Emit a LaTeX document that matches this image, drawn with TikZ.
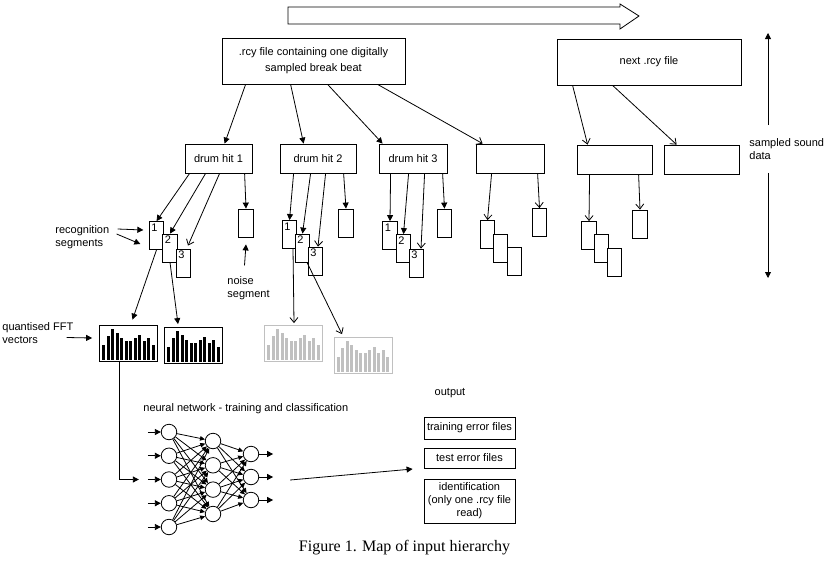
\documentclass[tikz,border=0pt]{standalone}
\usepackage{fontspec}
\setmainfont{Liberation Sans}
\newfontfamily\capfont{Liberation Serif}
\usetikzlibrary{arrows.meta}
\definecolor{bargrey}{RGB}{192,192,192}
\begin{document}
\begin{tikzpicture}[x=1pt, y=-1pt, line width=0.8pt,
    font=\fontsize{11}{13}\selectfont,
    box/.style={draw, fill=white, inner sep=0pt, align=center},
    seg/.style={draw, fill=white, minimum width=14.5pt, minimum height=28pt, inner sep=0pt},
    segl/.style={seg, label={[anchor=north west, inner sep=2pt]north west:#1}},
    hist/.style={draw, minimum width=58pt, minimum height=36pt, inner sep=0pt},
    neuron/.style={draw, circle, minimum size=15.5pt, inner sep=0pt},
    txt/.style={anchor=west, align=left, inner sep=0pt},
    tipf/.style={-{Triangle[length=6pt,width=6pt]}},
    tipo/.style={-{Straight Barb[length=5pt,width=8pt]}},
    tipn/.style={-{Triangle[length=5pt,width=4.5pt]}}]
\useasboundingbox (0,0) rectangle (827,565);

\draw[fill=white] (288,7) -- (620,7) -- (620,4) -- (639,16) -- (620,29) -- (620,24) -- (288,24) -- cycle;

\node[box, minimum width=183pt, minimum height=46pt, font=\fontsize{11}{16}\selectfont] (rcy) at (313.5,61) {.rcy file containing one digitally\\sampled break beat};
\node[box, minimum width=184pt, minimum height=46pt] (next) at (649,62) {next .rcy file};

\node[txt, inner ysep=13pt] (ssd) at (749,149) {sampled sound\\data};
\coordinate (sdup) at (768,33);
\coordinate (sddown) at (768,278);
\draw[tipf] (ssd.north -| sdup) -- (sdup);
\draw[tipf] (ssd.south -| sddown) -- (sddown);

\node[box, minimum width=67pt, minimum height=29pt] (dh1) at (218.5,158.5) {drum hit 1};
\node[box, minimum width=76pt, minimum height=29pt] (dh2) at (318,158.5) {drum hit 2};
\node[box, minimum width=68pt, minimum height=29pt] (dh3) at (413,158.5) {drum hit 3};
\node[box, minimum width=68pt, minimum height=29pt] (hb4) at (510,158.5) {};
\node[box, minimum width=75pt, minimum height=29pt] (hb5) at (614.5,159.5) {};
\node[box, minimum width=75pt, minimum height=29pt] (hb6) at (701.5,159.5) {};

\draw[tipf] ([xshift=24pt]rcy.south west) -- ([xshift=40pt]dh1.north west);
\draw[tipf] ([xshift=69pt]rcy.south west) -- ([xshift=24pt]dh2.north west);
\draw[tipf] ([xshift=106pt]rcy.south west) -- ([xshift=4pt]dh3.north west);
\draw[tipo] ([xshift=156pt]rcy.south west) -- ([xshift=7pt]hb4.north west);
\draw[tipo] ([xshift=16pt]next.south west) -- ([xshift=11pt]hb5.north west);
\draw[tipo] ([xshift=56pt]next.south west) -- ([xshift=13pt]hb6.north west);

\node[segl=1] (a1) at (156.5,235.5) {};
\node[segl=2] (a2) at (170,248) {};
\node[segl=3] (a3) at (183.5,263) {};
\node[seg] (an) at (246,223) {};
\node[segl=1] (b1) at (289.5,234.5) {};
\node[segl=2] (b2) at (302.5,248) {};
\node[segl=3] (b3) at (315.5,261) {};
\node[seg] (bn) at (346,223) {};
\node[segl=1] (c1) at (390,235.5) {};
\node[segl=2] (c2) at (403.5,248.5) {};
\node[segl=3] (c3) at (416.5,263) {};
\node[seg] (cn) at (444.5,223) {};
\node[seg] (d1) at (487.5,234.5) {};
\node[seg] (d2) at (500.5,248.5) {};
\node[seg] (d3) at (514.5,261.5) {};
\node[seg] (dn) at (539.5,222.5) {};
\node[seg] (e1) at (589,235.5) {};
\node[seg] (e2) at (601.5,248.5) {};
\node[seg] (e3) at (614.5,262) {};
\node[seg] (en) at (640,224) {};

\draw[tipf] ([xshift=5pt]dh1.south west) -- (a1.north);
\draw[tipf] ([xshift=21pt]dh1.south west) -- (a2.north);
\draw[tipo] ([xshift=35pt]dh1.south west) -- ([shift={(4.5,-3)}]a3.north);
\draw[tipf] ([xshift=60pt]dh1.south west) -- (an.north);
\draw[tipf] ([xshift=14pt]dh2.south west) -- (b1.north);
\draw[tipf] ([xshift=31pt]dh2.south west) -- (b2.north);
\draw[tipo] ([xshift=46pt]dh2.south west) -- ([xshift=2.5pt]b3.north);
\draw[tipf] ([xshift=64pt]dh2.south west) -- (bn.north);
\draw[tipf] ([xshift=12pt]dh3.south west) -- (c1.north);
\draw[tipf] ([xshift=30pt]dh3.south west) -- (c2.north);
\draw[tipo] ([xshift=46pt]dh3.south west) -- ([xshift=4.5pt]c3.north);
\draw[tipf] ([xshift=64pt]dh3.south west) -- (cn.north);
\draw[tipo] ([xshift=16pt]hb4.south west) -- (d1.north);
\draw[tipo] ([xshift=62pt]hb4.south west) -- (dn.north);
\draw[tipo] ([xshift=13pt]hb5.south west) -- (e1.north);
\draw[tipo] ([xshift=62pt]hb5.south west) -- (en.north);

\node[txt] (recog) at (55,237) {recognition\\segments};
\draw[tipf] ([shift={(8,-8)}]recog.east) -- ([shift={(-5.5,-5.5)}]a1.west);
\draw[tipf] ([shift={(7,-3)}]recog.east) -- ([shift={(-8.5,8.5)}]a1.west);
\node[txt] (nlab) at (227,288.5) {noise\\segment};
\draw[tipf] ([shift={(-4,-11)}]nlab.north) -- ([shift={(0,7)}]an.south);

\node[hist] (h1) at (128.5,343) {};
\node[hist] (h2) at (193.5,345.5) {};
\node[hist, draw=bargrey] (h3) at (293.5,343.5) {};
\node[hist, draw=bargrey] (h4) at (363,355.5) {};
\foreach \n/\c in {h1/black, h2/black, h3/bargrey, h4/bargrey}
  \foreach \v [count=\i] in {15,24,31,27,22,19,19,22,25,19,22,15}
    \fill[\c] ([shift={({4.5*\i-1.5},-1.5)}]\n.south west) rectangle +(3,-\v);

\node[txt] (qlab) at (2,333.5) {quantised FFT\\vectors};
\draw[tipf] ([shift={(-7,4)}]qlab.east) -- ([shift={(-7,-5)}]h1.west);
\draw[tipf] (a1.south) -- ([shift={(4,-5)}]h1.north);
\draw[tipf] (a2.south) -- ([shift={(-15.5,-3)}]h2.north);
\draw[tipo] ([xshift=3.5pt]b1.south) -- ([shift={(0.5,-2)}]h3.north);
\draw[tipo] ([xshift=4.5pt]b2.south) -- ([shift={(-21,-3)}]h4.north);

\node[txt] (nnlab) at (143,409) {neural network - training and classification};
\foreach \i/\y in {1/432,2/455.75,3/479.5,4/503.25,5/527}
  \node[neuron] (i\i) at (169,\y) {};
\foreach \j/\y in {1/441,2/465.3,3/489.6,4/514}
  \node[neuron] (m\j) at (213,\y) {};
\foreach \k/\y in {1/454,2/477,3/500}
  \node[neuron] (o\k) at (251,\y) {};
\foreach \i in {1,...,5}
  \foreach \j in {1,...,4}
    \draw[tipn] (i\i) -- (m\j);
\foreach \j in {1,...,4}
  \foreach \k in {1,...,3}
    \draw[tipn] (m\j) -- (o\k);
\foreach \i in {1,...,5}
  \draw[tipf] ([xshift=-13pt]i\i.west) -- (i\i);
\foreach \k in {1,...,3}
  \draw[tipf] (o\k) -- ([xshift=14pt]o\k.east);
\draw[tipf] ([xshift=-9.5pt]h1.south) |- ([xshift=-22pt]i3.west);

\node (outlab) at (450,393) {output};
\node[box, minimum width=91pt, minimum height=22pt] (train) at (469.5,428) {training error files};
\node[box, minimum width=91pt, minimum height=20pt] (test) at (469.5,458) {test error files};
\node[box, minimum width=91pt, minimum height=44pt] (ident) at (469.5,501) {identification\\(only one .rcy file\\read)};
\draw[tipf] ([shift={(31,3)}]o2.east) -- ([shift={(-11,11)}]test.west);

\node[font=\capfont\fontsize{16}{18}\selectfont] (cap) at (404.5,548) {Figure 1. Map of input hierarchy};
\end{tikzpicture}
\end{document}
